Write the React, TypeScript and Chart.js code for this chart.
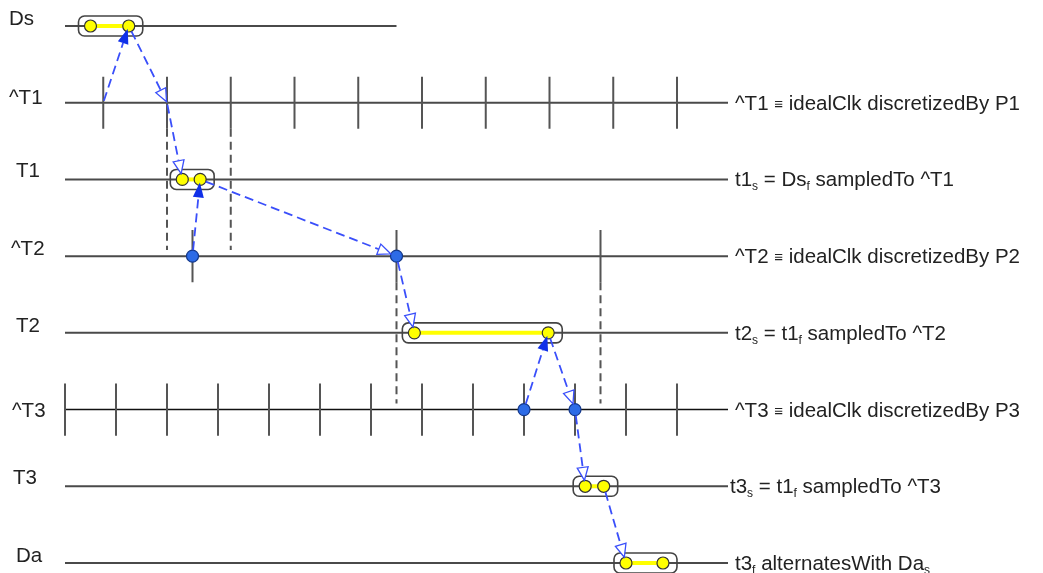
import React, { useEffect, useRef } from "react";
import Chart from "chart.js/auto";

// rows of the timing diagram, top to bottom
const rowNames = ["Ds", "^T1", "T1", "^T2", "T2", "^T3", "T3", "Da"];
const rowNotes = [
  "",
  "^T1 ≡ idealClk discretizedBy P1",
  "t1_s = Ds_f sampledTo ^T1",
  "^T2 ≡ idealClk discretizedBy P2",
  "t2_s = t1_f sampledTo ^T2",
  "^T3 ≡ idealClk discretizedBy P3",
  "t3_s = t1_f sampledTo ^T3",
  "t3_f alternatesWith Da_s",
];
const rowEnds = [26, 52, 52, 52, 52, 52, 52, 52];

// clock instants
const ticksT1 = [3, 8, 13, 18, 23, 28, 33, 38, 43, 48];
const ticksT2 = [10, 26, 42];
const ticksT3 = [0, 4, 8, 12, 16, 20, 24, 28, 32, 36, 40, 44, 48];

// sampling windows (dashed verticals)
const windowTimes = [8, 13, 26, 42];
const windowFrom = [1, 1, 3, 3];
const windowTo = [3, 3, 5, 5];

// intervals (yellow)
const intervalRows = [0, 2, 4, 6, 7];
const intervalStarts = [2, 9.2, 27.4, 40.8, 44];
const intervalEnds = [5, 10.6, 37.9, 42.25, 46.9];

// sampled instants (blue)
const instantRows = [3, 3, 5, 5];
const instantTimes = [10, 26, 36, 40];

// causality arrows
const arrowFromT = [3, 5, 8, 10, 10.6, 26, 36, 37.9, 40, 42.25];
const arrowFromRow = [1, 0, 1, 3, 2, 3, 5, 4, 5, 6];
const arrowToT = [5, 8, 9.2, 10.6, 26, 27.4, 37.9, 40, 40.8, 44];
const arrowToRow = [0, 1, 2, 2, 3, 4, 4, 5, 6, 7];
const arrowFilled = [true, false, false, true, false, false, true, false, false, false];

const TICK = 0.34;
const labelX = [9, 9, 16, 11, 16, 12, 13, 16];
const labelDy = [-1, 1, -2, -1, -1, 7, -2, -1];
const FONT = '20.5px "Liberation Sans", Arial, sans-serif';
const SUB_FONT = '12px "Liberation Sans", Arial, sans-serif';
const EQ_FONT = '15px "Liberation Sans", Arial, sans-serif';

function isMarker(t: number, r: number) {
  for (let i = 0; i < intervalRows.length; i++) {
    if (intervalRows[i] === r && (intervalStarts[i] === t || intervalEnds[i] === t)) return true;
  }
  for (let i = 0; i < instantRows.length; i++) {
    if (instantRows[i] === r && instantTimes[i] === t) return true;
  }
  return false;
}

function segment(points: { x: number; y: number }[], color: string, width: number, dash: number[], order: number) {
  return {
    data: points,
    showLine: true,
    borderColor: color,
    borderWidth: width,
    borderDash: dash,
    borderCapStyle: "butt",
    pointRadius: 0,
    pointHoverRadius: 0,
    clip: false,
    order,
  };
}

function drawRich(ctx: CanvasRenderingContext2D, text: string, x: number, y: number) {
  let cx = x;
  const parts = text.split(/(_.|≡)/).filter((p) => p.length > 0);
  for (const p of parts) {
    if (p.startsWith("_")) {
      ctx.font = SUB_FONT;
      ctx.fillText(p[1], cx, y + 4);
      cx += ctx.measureText(p[1]).width;
    } else if (p === "≡") {
      ctx.font = EQ_FONT;
      ctx.fillText(p, cx, y - 1);
      cx += ctx.measureText(p).width;
    } else {
      ctx.font = FONT;
      ctx.fillText(p, cx, y);
      cx += ctx.measureText(p).width;
    }
  }
}

const diagramPlugin = {
  id: "diagram",
  afterDatasetsDraw(chart: any) {
    const ctx: CanvasRenderingContext2D = chart.ctx;
    const xs = chart.scales.x;
    const ys = chart.scales.y;
    ctx.save();

    // interval boxes
    ctx.strokeStyle = "#444";
    ctx.lineWidth = 1.6;
    for (let i = 0; i < intervalRows.length; i++) {
      const l = xs.getPixelForValue(intervalStarts[i]) - 12;
      const r = xs.getPixelForValue(intervalEnds[i]) + 14;
      const y = ys.getPixelForValue(intervalRows[i]);
      ctx.beginPath();
      ctx.roundRect(l, y - 10, r - l, 20, 6);
      ctx.stroke();
    }

    // arrows
    for (let i = 0; i < arrowFromT.length; i++) {
      let x1 = xs.getPixelForValue(arrowFromT[i]);
      let y1 = ys.getPixelForValue(arrowFromRow[i]);
      let x2 = xs.getPixelForValue(arrowToT[i]);
      let y2 = ys.getPixelForValue(arrowToRow[i]);
      const len = Math.hypot(x2 - x1, y2 - y1);
      const ux = (x2 - x1) / len;
      const uy = (y2 - y1) / len;
      const g1 = isMarker(arrowFromT[i], arrowFromRow[i]) ? 6 : 2;
      const g2 = isMarker(arrowToT[i], arrowToRow[i]) ? (arrowFilled[i] ? 3 : 6) : 1;
      x1 += ux * g1;
      y1 += uy * g1;
      x2 -= ux * g2;
      y2 -= uy * g2;
      const hl = arrowFilled[i] ? 15 : 13;
      const hw = arrowFilled[i] ? 5.5 : 5.5;
      const bx = x2 - ux * hl;
      const by = y2 - uy * hl;
      ctx.strokeStyle = "#3a4ffa";
      ctx.lineWidth = 1.8;
      ctx.setLineDash([9, 5]);
      ctx.beginPath();
      ctx.moveTo(x1, y1);
      ctx.lineTo(bx, by);
      ctx.stroke();
      ctx.setLineDash([]);
      ctx.beginPath();
      ctx.moveTo(x2, y2);
      ctx.lineTo(bx - uy * hw, by + ux * hw);
      ctx.lineTo(bx + uy * hw, by - ux * hw);
      ctx.closePath();
      if (arrowFilled[i]) {
        ctx.fillStyle = "#1030e8";
        ctx.fill();
      } else {
        ctx.fillStyle = "#fff";
        ctx.fill();
        ctx.lineWidth = 1.3;
        ctx.stroke();
      }
    }

    // labels
    ctx.fillStyle = "#222";
    ctx.textBaseline = "alphabetic";
    for (let r = 0; r < rowNames.length; r++) {
      const y = ys.getPixelForValue(r);
      ctx.font = FONT;
      ctx.fillText(rowNames[r], labelX[r], y + labelDy[r]);
      if (rowNotes[r]) {
        drawRich(ctx, rowNotes[r], xs.getPixelForValue(52) + (r === 6 ? 2 : 7), y + 7);
      }
    }
    ctx.restore();
  },
};

export default function App() {
  const canvasRef = useRef<HTMLCanvasElement | null>(null);

  useEffect(() => {
    if (!canvasRef.current) return;
    const datasets: any[] = [];

    rowNames.forEach((_, r) => {
      datasets.push(segment([{ x: 0, y: r }, { x: rowEnds[r], y: r }], r === 5 ? "#111" : "#4a4a4a", r === 5 ? 1.6 : 2, [], 8));
    });
    ticksT1.forEach((t) => datasets.push(segment([{ x: t, y: 1 - TICK }, { x: t, y: 1 + TICK }], "#555", 2, [], 7)));
    ticksT2.forEach((t) => datasets.push(segment([{ x: t, y: 3 - TICK }, { x: t, y: 3 + TICK }], "#555", 2, [], 7)));
    ticksT3.forEach((t) => datasets.push(segment([{ x: t, y: 5 - TICK }, { x: t, y: 5 + TICK }], "#555", 2, [], 7)));
    windowTimes.forEach((t, i) =>
      datasets.push(segment([{ x: t, y: windowFrom[i] + TICK }, { x: t, y: windowTo[i] - 0.08 }], "#555", 2, [8, 5], 7))
    );
    intervalRows.forEach((r, i) =>
      datasets.push(segment([{ x: intervalStarts[i], y: r }, { x: intervalEnds[i], y: r }], "#ffff00", 4, [], 4))
    );
    datasets.push({
      data: intervalRows.flatMap((r, i) => [
        { x: intervalStarts[i], y: r },
        { x: intervalEnds[i], y: r },
      ]),
      pointRadius: 6,
      pointHoverRadius: 6,
      backgroundColor: "#ffff00",
      borderColor: "#333",
      borderWidth: 1.2,
      clip: false,
      order: 2,
    });
    datasets.push({
      data: instantRows.map((r, i) => ({ x: instantTimes[i], y: r })),
      pointRadius: 6,
      pointHoverRadius: 6,
      backgroundColor: "#2d6be6",
      borderColor: "#14388a",
      borderWidth: 1.2,
      clip: false,
      order: 2,
    });

    const chart = new Chart(canvasRef.current, {
      type: "scatter",
      data: { datasets },
      options: {
        responsive: false,
        animation: false,
        events: [],
        layout: { padding: { left: 65, right: 315, top: 26, bottom: 10 } },
        plugins: { legend: { display: false }, tooltip: { enabled: false } },
        scales: {
          x: { type: "linear", min: 0, max: 52, display: false },
          y: { type: "linear", min: 0, max: 7, reverse: true, display: false },
        },
      },
      plugins: [diagramPlugin],
    });

    return () => {
      chart.destroy();
    };
  }, []);

  return (
    <div style={{ position: "absolute", left: 0, top: 0, width: 1043, height: 573, background: "#fff" }}>
      <canvas ref={canvasRef} width={1043} height={573} style={{ display: "block" }} />
    </div>
  );
}
